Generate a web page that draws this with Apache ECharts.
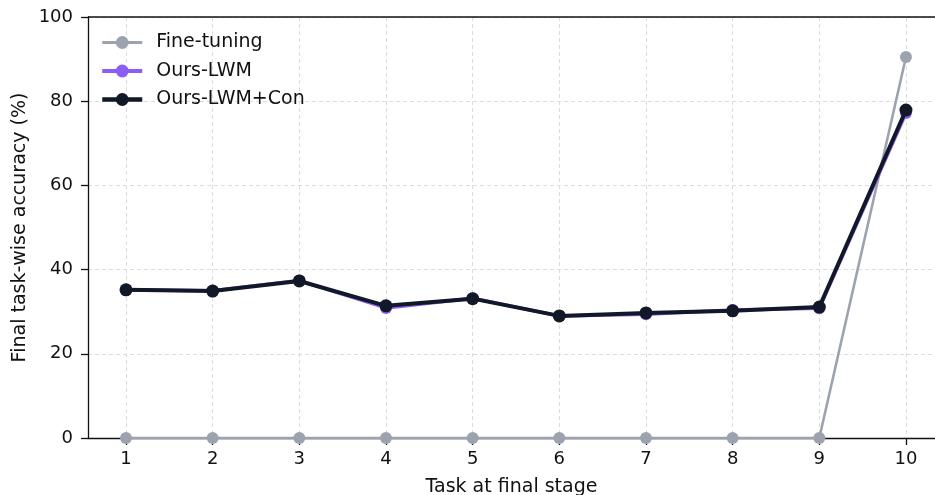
<!DOCTYPE html>
<html><head><meta charset="utf-8">
<script src="https://cdn.jsdelivr.net/npm/echarts@6/dist/echarts.min.js"></script>
<style>html,body{margin:0;padding:0;background:#fff}#c{width:935px;height:495px}</style>
</head><body><div id="c"></div>
<script>
const tasks = [1,2,3,4,5,6,7,8,9,10];
const fineTuning = [0,0,0,0,0,0,0,0,0,90.5];
const oursLWM = [35.2,35.0,37.4,30.9,33.2,29.0,29.4,30.4,30.8,77.2];
const oursLWMCon = [35.2,34.9,37.3,31.4,33.1,29.0,29.7,30.2,31.1,77.9];
const yTicks = [0,20,40,60,80,100];

const F = 'DejaVu Sans';
const chart = echarts.init(document.getElementById('c'), null, {renderer:'canvas'});
function pairs(v){ return tasks.map((t,i)=>[t,v[i]]); }
chart.setOption({
  animation:false,
  textStyle:{fontFamily:F},
  grid:{left:88,right:0,top:17,bottom:57,containLabel:false,outerBoundsMode:'none'},
  legend:{
    orient:'vertical', left:95, top:28, itemWidth:40, itemHeight:16, itemGap:9.5,
    textStyle:{fontFamily:F,fontSize:19,color:'#111',padding:[0,0,0,9]},
    data:[
      {name:'Fine-tuning',lineStyle:{width:3}},
      {name:'Ours-LWM',lineStyle:{width:4}},
      {name:'Ours-LWM+Con',lineStyle:{width:4.5}}
    ]
  },
  xAxis:{
    type:'value', min:0.5616, max:10.335,
    name:'Task at final stage', nameLocation:'middle', nameGap:40, nameMoveOverlap:false,
    nameTextStyle:{fontFamily:F,fontSize:19,color:'#111'},
    axisLine:{show:true,onZero:false,lineStyle:{color:'#111',width:1.3}},
    axisTick:{show:true,length:7,customValues:tasks,lineStyle:{color:'#111',width:1.3}},
    axisLabel:{customValues:tasks,fontFamily:F,fontSize:18,color:'#111',margin:12},
    splitLine:{show:true,lineStyle:{color:'#dcdcdc',type:[4,3],width:1}}
  },
  yAxis:{
    type:'value', min:0, max:100, interval:20,
    name:'Final task-wise accuracy (%)', nameLocation:'middle', nameGap:58, nameMoveOverlap:false,
    nameTextStyle:{fontFamily:F,fontSize:19,color:'#111'},
    axisLine:{show:true,lineStyle:{color:'#111',width:1.3}},
    axisTick:{show:true,length:7,lineStyle:{color:'#111',width:1.3}},
    axisLabel:{fontFamily:F,fontSize:18,color:'#111',margin:15,
      formatter:v=>yTicks.includes(v)?String(v):''},
    splitLine:{show:true,lineStyle:{color:'#dcdcdc',type:[4,3],width:1}}
  },
  graphic:[{type:'line',shape:{x1:88,y1:17,x2:935,y2:17},style:{stroke:'#111',lineWidth:1.3},z:10}],
  series:[
    {name:'Fine-tuning',type:'line',data:pairs(fineTuning),color:'#9ca3af',
     symbol:'circle',symbolSize:12,lineStyle:{width:2.6,color:'#9ca3af'},itemStyle:{color:'#9ca3af'},z:2},
    {name:'Ours-LWM',type:'line',data:pairs(oursLWM),color:'#8b5cf6',
     symbol:'circle',symbolSize:12,lineStyle:{width:3.5,color:'#8b5cf6'},itemStyle:{color:'#8b5cf6'},z:3},
    {name:'Ours-LWM+Con',type:'line',data:pairs(oursLWMCon),color:'#111827',
     symbol:'circle',symbolSize:13,lineStyle:{width:4,color:'#111827'},itemStyle:{color:'#111827'},z:4}
  ]
});
</script></body></html>
